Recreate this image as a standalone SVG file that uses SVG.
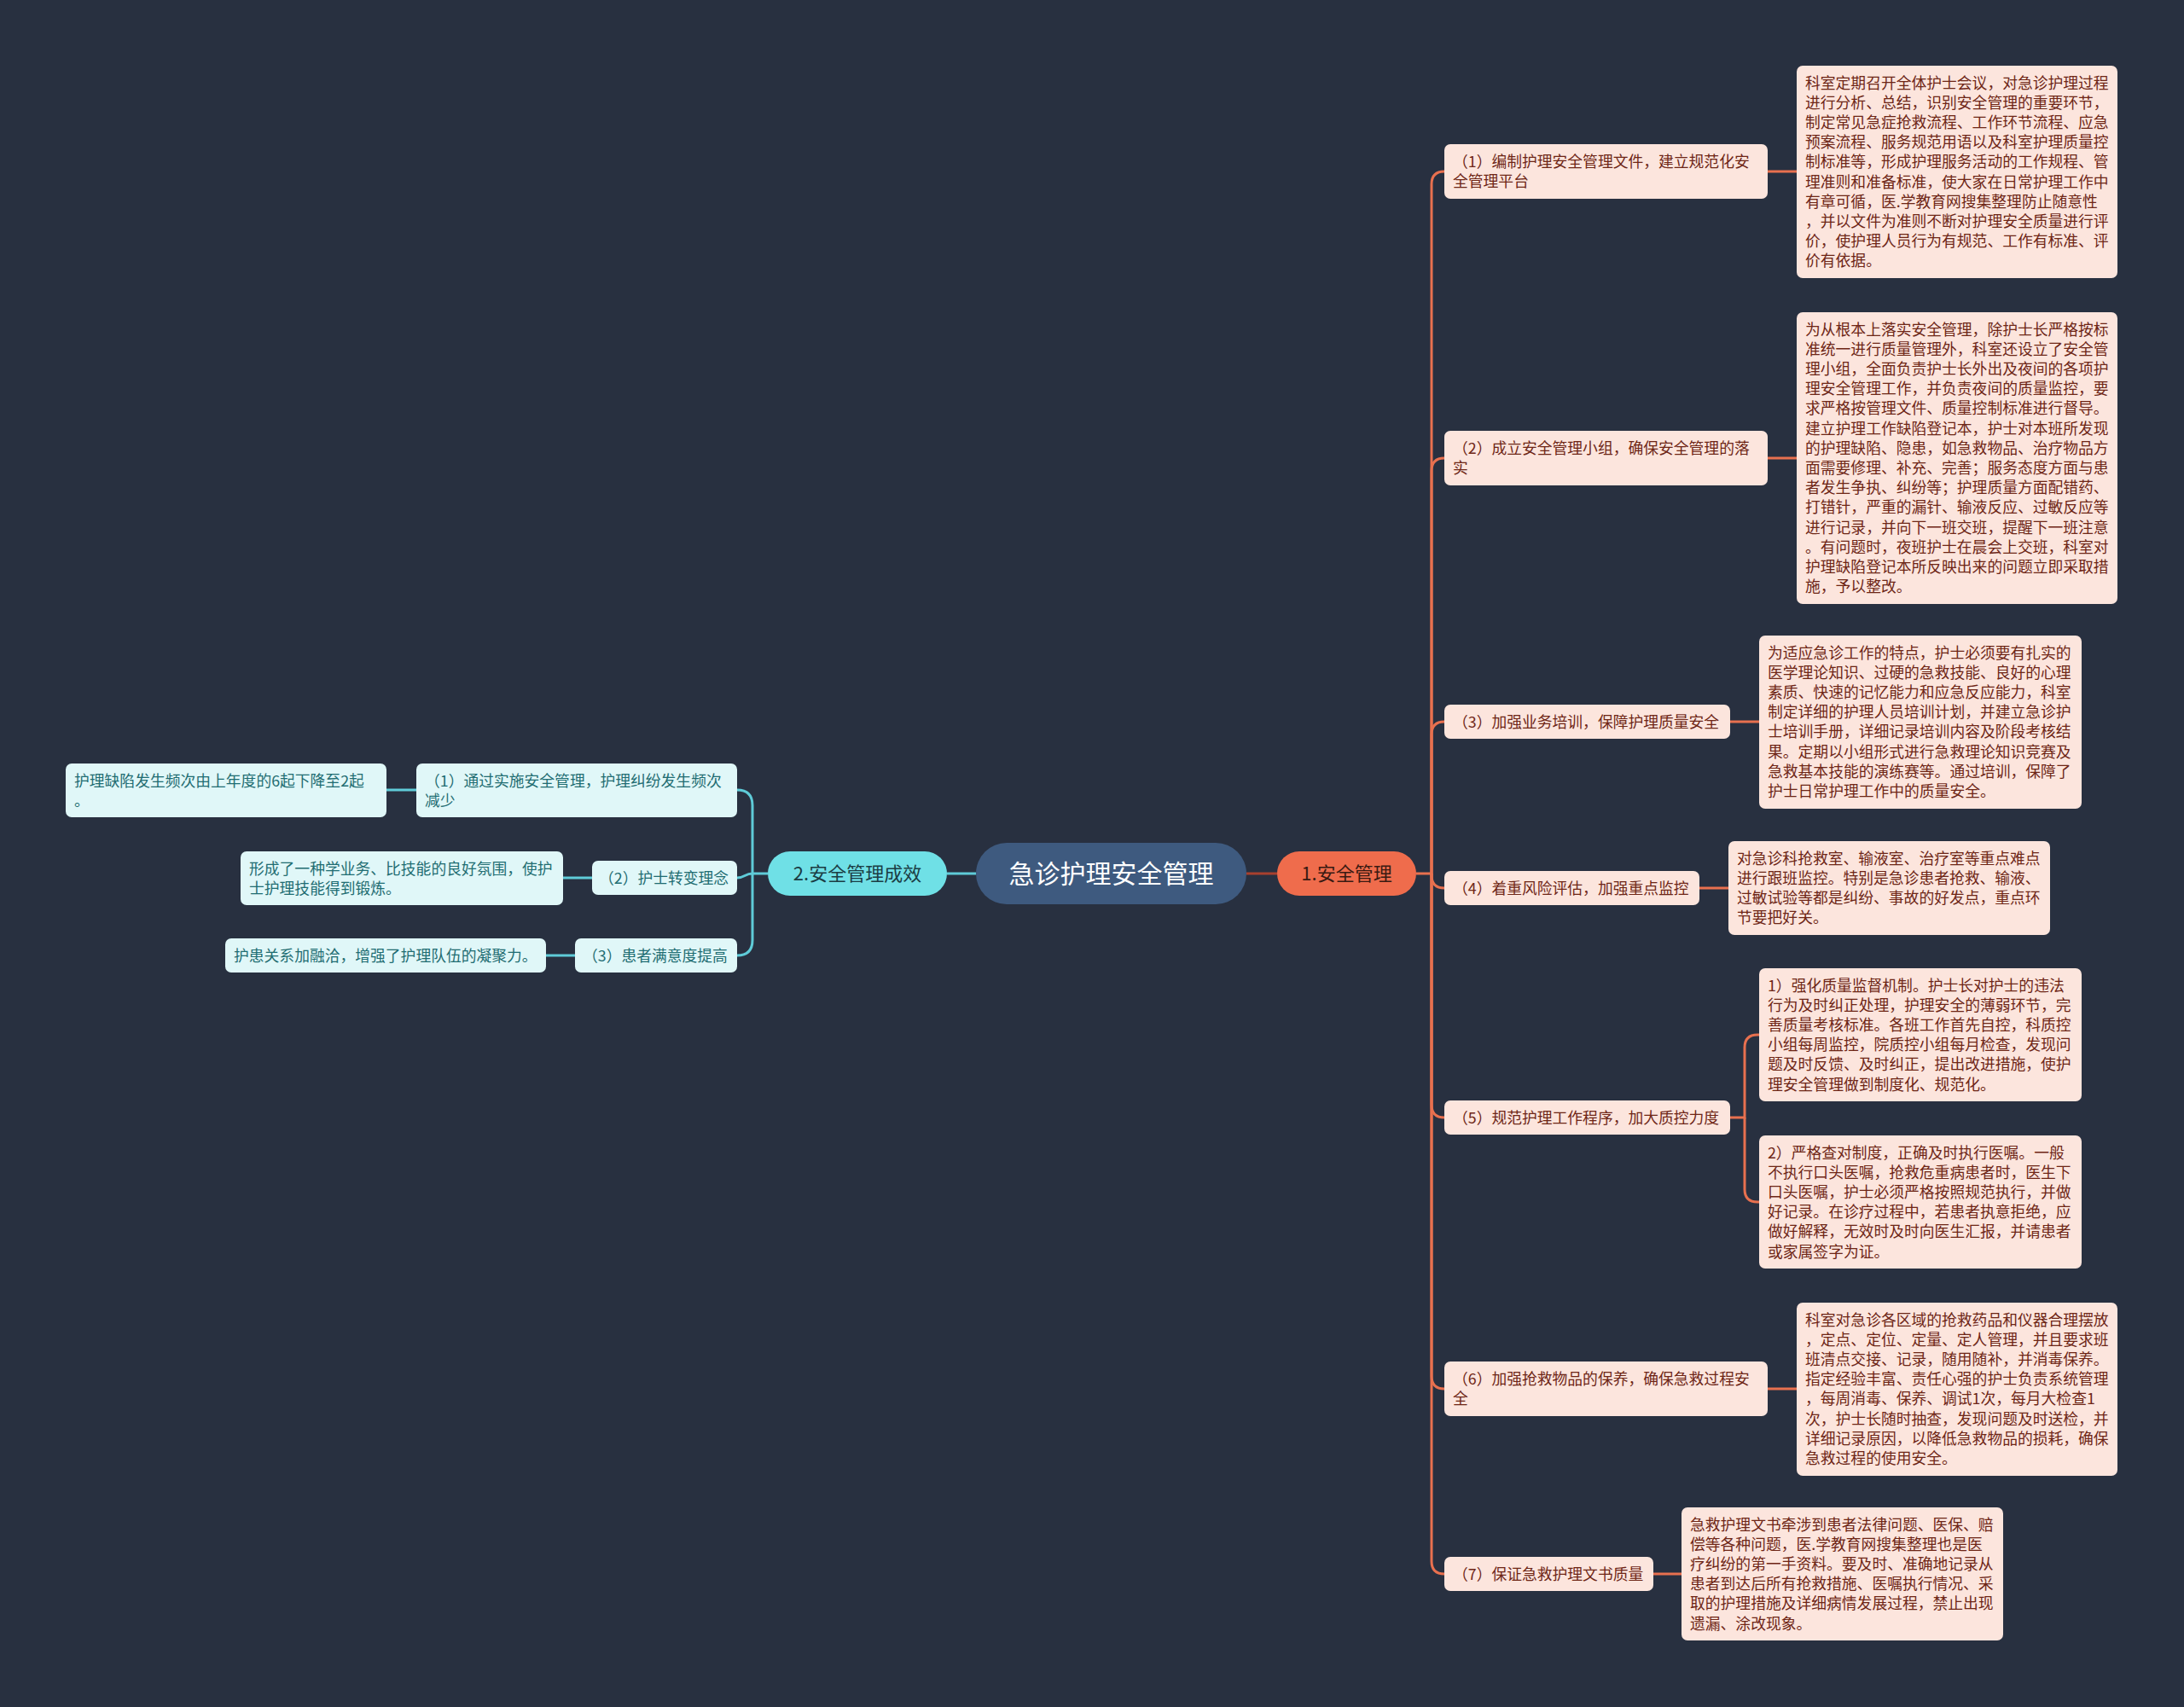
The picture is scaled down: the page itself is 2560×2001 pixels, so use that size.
<svg xmlns="http://www.w3.org/2000/svg" width="2560" height="2001" viewBox="0 0 2560 2001">
<style>
text{font-family:"Noto Sans CJK SC","Noto Sans",sans-serif;}
.p{fill:#fce5dd;}
.pt{fill:#6e2616;font-size:17.8px;}
.c{fill:#e0f7f8;}
.ct{fill:#1f6d72;font-size:17.8px;}
.lo{fill:none;stroke:#e8704f;stroke-width:3;}
.lc{fill:none;stroke:#5fcbd8;stroke-width:3;}
</style>
<rect width="2560" height="2001" fill="#283040"/>
<g id="connectors">
<path class="lc" d="M1144 1024H1110"/>
<path d="M1461 1024H1497" fill="none" stroke="#a7402e" stroke-width="3"/>
<path class="lo" d="M1660 1024H1678V216Q1678 201 1693 201"/>
<path class="lo" d="M1678 1024V552Q1678 537 1693 537"/>
<path class="lo" d="M1678 1024V861Q1678 846 1693 846"/>
<path class="lo" d="M1678 1024V1026Q1678 1041 1693 1041"/>
<path class="lo" d="M1678 1024V1295Q1678 1310 1693 1310"/>
<path class="lo" d="M1678 1024V1613Q1678 1628 1693 1628"/>
<path class="lo" d="M1678 1024V1830Q1678 1845 1693 1845"/>
<path class="lo" d="M2072 201H2106"/>
<path class="lo" d="M2072 537H2106"/>
<path class="lo" d="M2028 846H2062"/>
<path class="lo" d="M1992 1041H2026"/>
<path class="lo" d="M2028 1310H2045V1228Q2045 1213 2060 1213H2062"/>
<path class="lo" d="M2045 1310V1394Q2045 1409 2060 1409H2062"/>
<path class="lo" d="M2072 1628H2106"/>
<path class="lo" d="M1938 1845H1971"/>
<path class="lc" d="M900 1024H882V944Q882 926 864 926"/>
<path class="lc" d="M882 1024C873 1024 873 1029 864 1029"/>
<path class="lc" d="M882 1024V1102Q882 1120 864 1120"/>
<path class="lc" d="M488 926H453"/>
<path class="lc" d="M694 1029H660"/>
<path class="lc" d="M674 1120H640"/>
</g>
<g id="root">
<rect x="1144" y="988" width="317" height="72" rx="36" fill="#3e5a7f"/>
<text x="1302.5" y="1035" text-anchor="middle" fill="#ffffff" font-size="30">急诊护理安全管理</text>
</g>
<g id="n1">
<rect x="1497" y="998" width="163" height="52" rx="26" fill="#ef6c4c"/>
<text x="1578.5" y="1032" text-anchor="middle" fill="#3a1a12" font-size="22">1.安全管理</text>
</g>
<g id="n2">
<rect x="900" y="998" width="210" height="52" rx="26" fill="#6fe0e6"/>
<text x="1005" y="1032" text-anchor="middle" fill="#1b3d44" font-size="22">2.安全管理成效</text>
</g>
<g id="r1">
<rect class="p" x="1693" y="169" width="379" height="64" rx="7"/>
<text class="pt" x="1703"><tspan x="1703" y="195.5">（1）编制护理安全管理文件，建立规范化安</tspan><tspan x="1703" y="218.7">全管理平台</tspan></text>
</g>
<g id="r2">
<rect class="p" x="1693" y="505" width="379" height="64" rx="7"/>
<text class="pt"><tspan x="1703" y="531.5">（2）成立安全管理小组，确保安全管理的落</tspan><tspan x="1703" y="554.7">实</tspan></text>
</g>
<g id="r3">
<rect class="p" x="1693" y="826" width="335" height="40" rx="7"/>
<text class="pt" x="1703" y="852.5">（3）加强业务培训，保障护理质量安全</text>
</g>
<g id="r4">
<rect class="p" x="1693" y="1021" width="299" height="40" rx="7"/>
<text class="pt" x="1703" y="1047.5">（4）着重风险评估，加强重点监控</text>
</g>
<g id="r5">
<rect class="p" x="1693" y="1290" width="335" height="40" rx="7"/>
<text class="pt" x="1703" y="1316.5">（5）规范护理工作程序，加大质控力度</text>
</g>
<g id="r6">
<rect class="p" x="1693" y="1596" width="379" height="64" rx="7"/>
<text class="pt"><tspan x="1703" y="1622.5">（6）加强抢救物品的保养，确保急救过程安</tspan><tspan x="1703" y="1645.7">全</tspan></text>
</g>
<g id="r7">
<rect class="p" x="1693" y="1825" width="245" height="40" rx="7"/>
<text class="pt" x="1703" y="1851.5">（7）保证急救护理文书质量</text>
</g>
<g id="a1">
<rect class="p" x="2106" y="77" width="376" height="249" rx="7"/>
<text class="pt"><tspan x="2116" y="103.5">科室定期召开全体护士会议，对急诊护理过程</tspan><tspan x="2116" y="126.7">进行分析、总结，识别安全管理的重要环节，</tspan><tspan x="2116" y="149.9">制定常见急症抢救流程、工作环节流程、应急</tspan><tspan x="2116" y="173.1">预案流程、服务规范用语以及科室护理质量控</tspan><tspan x="2116" y="196.3">制标准等，形成护理服务活动的工作规程、管</tspan><tspan x="2116" y="219.5">理准则和准备标准，使大家在日常护理工作中</tspan><tspan x="2116" y="242.7">有章可循，医.学教育网搜集整理防止随意性</tspan><tspan x="2116" y="265.9">，并以文件为准则不断对护理安全质量进行评</tspan><tspan x="2116" y="289.1">价，使护理人员行为有规范、工作有标准、评</tspan><tspan x="2116" y="312.3">价有依据。</tspan></text>
</g>
<g id="a2">
<rect class="p" x="2106" y="366" width="376" height="342" rx="7"/>
<text class="pt"><tspan x="2116" y="392.5">为从根本上落实安全管理，除护士长严格按标</tspan><tspan x="2116" y="415.7">准统一进行质量管理外，科室还设立了安全管</tspan><tspan x="2116" y="438.9">理小组，全面负责护士长外出及夜间的各项护</tspan><tspan x="2116" y="462.1">理安全管理工作，并负责夜间的质量监控，要</tspan><tspan x="2116" y="485.3">求严格按管理文件、质量控制标准进行督导。</tspan><tspan x="2116" y="508.5">建立护理工作缺陷登记本，护士对本班所发现</tspan><tspan x="2116" y="531.7">的护理缺陷、隐患，如急救物品、治疗物品方</tspan><tspan x="2116" y="554.9">面需要修理、补充、完善；服务态度方面与患</tspan><tspan x="2116" y="578.1">者发生争执、纠纷等；护理质量方面配错药、</tspan><tspan x="2116" y="601.3">打错针，严重的漏针、输液反应、过敏反应等</tspan><tspan x="2116" y="624.5">进行记录，并向下一班交班，提醒下一班注意</tspan><tspan x="2116" y="647.7">。有问题时，夜班护士在晨会上交班，科室对</tspan><tspan x="2116" y="670.9">护理缺陷登记本所反映出来的问题立即采取措</tspan><tspan x="2116" y="694.1">施，予以整改。</tspan></text>
</g>
<g id="a3">
<rect class="p" x="2062" y="745" width="378" height="203" rx="7"/>
<text class="pt"><tspan x="2072" y="771.5">为适应急诊工作的特点，护士必须要有扎实的</tspan><tspan x="2072" y="794.7">医学理论知识、过硬的急救技能、良好的心理</tspan><tspan x="2072" y="817.9">素质、快速的记忆能力和应急反应能力，科室</tspan><tspan x="2072" y="841.1">制定详细的护理人员培训计划，并建立急诊护</tspan><tspan x="2072" y="864.3">士培训手册，详细记录培训内容及阶段考核结</tspan><tspan x="2072" y="887.5">果。定期以小组形式进行急救理论知识竞赛及</tspan><tspan x="2072" y="910.7">急救基本技能的演练赛等。通过培训，保障了</tspan><tspan x="2072" y="933.9">护士日常护理工作中的质量安全。</tspan></text>
</g>
<g id="a4">
<rect class="p" x="2026" y="986" width="377" height="110" rx="7"/>
<text class="pt"><tspan x="2036" y="1012.5">对急诊科抢救室、输液室、治疗室等重点难点</tspan><tspan x="2036" y="1035.7">进行跟班监控。特别是急诊患者抢救、输液、</tspan><tspan x="2036" y="1058.9">过敏试验等都是纠纷、事故的好发点，重点环</tspan><tspan x="2036" y="1082.1">节要把好关。</tspan></text>
</g>
<g id="a5a">
<rect class="p" x="2062" y="1135" width="378" height="156" rx="7"/>
<text class="pt"><tspan x="2072" y="1161.5">1）强化质量监督机制。护士长对护士的违法</tspan><tspan x="2072" y="1184.7">行为及时纠正处理，护理安全的薄弱环节，完</tspan><tspan x="2072" y="1207.9">善质量考核标准。各班工作首先自控，科质控</tspan><tspan x="2072" y="1231.1">小组每周监控，院质控小组每月检查，发现问</tspan><tspan x="2072" y="1254.3">题及时反馈、及时纠正，提出改进措施，使护</tspan><tspan x="2072" y="1277.5">理安全管理做到制度化、规范化。</tspan></text>
</g>
<g id="a5b">
<rect class="p" x="2062" y="1331" width="378" height="156" rx="7"/>
<text class="pt"><tspan x="2072" y="1357.5">2）严格查对制度，正确及时执行医嘱。一般</tspan><tspan x="2072" y="1380.7">不执行口头医嘱，抢救危重病患者时，医生下</tspan><tspan x="2072" y="1403.9">口头医嘱，护士必须严格按照规范执行，并做</tspan><tspan x="2072" y="1427.1">好记录。在诊疗过程中，若患者执意拒绝，应</tspan><tspan x="2072" y="1450.3">做好解释，无效时及时向医生汇报，并请患者</tspan><tspan x="2072" y="1473.5">或家属签字为证。</tspan></text>
</g>
<g id="a6">
<rect class="p" x="2106" y="1527" width="376" height="203" rx="7"/>
<text class="pt"><tspan x="2116" y="1553.5">科室对急诊各区域的抢救药品和仪器合理摆放</tspan><tspan x="2116" y="1576.7">，定点、定位、定量、定人管理，并且要求班</tspan><tspan x="2116" y="1599.9">班清点交接、记录，随用随补，并消毒保养。</tspan><tspan x="2116" y="1623.1">指定经验丰富、责任心强的护士负责系统管理</tspan><tspan x="2116" y="1646.3">，每周消毒、保养、调试1次，每月大检查1</tspan><tspan x="2116" y="1669.5">次，护士长随时抽查，发现问题及时送检，并</tspan><tspan x="2116" y="1692.7">详细记录原因，以降低急救物品的损耗，确保</tspan><tspan x="2116" y="1715.9">急救过程的使用安全。</tspan></text>
</g>
<g id="a7">
<rect class="p" x="1971" y="1767" width="377" height="156" rx="7"/>
<text class="pt"><tspan x="1981" y="1793.5">急救护理文书牵涉到患者法律问题、医保、赔</tspan><tspan x="1981" y="1816.7">偿等各种问题，医.学教育网搜集整理也是医</tspan><tspan x="1981" y="1839.9">疗纠纷的第一手资料。要及时、准确地记录从</tspan><tspan x="1981" y="1863.1">患者到达后所有抢救措施、医嘱执行情况、采</tspan><tspan x="1981" y="1886.3">取的护理措施及详细病情发展过程，禁止出现</tspan><tspan x="1981" y="1909.5">遗漏、涂改现象。</tspan></text>
</g>
<g id="l1">
<rect class="c" x="488" y="895" width="376" height="63" rx="7"/>
<text class="ct"><tspan x="498" y="921.5">（1）通过实施安全管理，护理纠纷发生频次</tspan><tspan x="498" y="944.7">减少</tspan></text>
</g>
<g id="l1c">
<rect class="c" x="77" y="895" width="376" height="63" rx="7"/>
<text class="ct"><tspan x="87" y="921.5">护理缺陷发生频次由上年度的6起下降至2起</tspan><tspan x="87" y="944.7">。</tspan></text>
</g>
<g id="l2">
<rect class="c" x="694" y="1009" width="170" height="40" rx="7"/>
<text class="ct" x="702" y="1035.5">（2）护士转变理念</text>
</g>
<g id="l2c">
<rect class="c" x="282" y="998" width="378" height="63" rx="7"/>
<text class="ct"><tspan x="292" y="1024.5">形成了一种学业务、比技能的良好氛围，使护</tspan><tspan x="292" y="1047.7">士护理技能得到锻炼。</tspan></text>
</g>
<g id="l3">
<rect class="c" x="674" y="1100" width="190" height="40" rx="7"/>
<text class="ct" x="683" y="1126.5">（3）患者满意度提高</text>
</g>
<g id="l3c">
<rect class="c" x="264" y="1100" width="376" height="40" rx="7"/>
<text class="ct" x="274" y="1126.5">护患关系加融洽，增强了护理队伍的凝聚力。</text>
</g>
</svg>
